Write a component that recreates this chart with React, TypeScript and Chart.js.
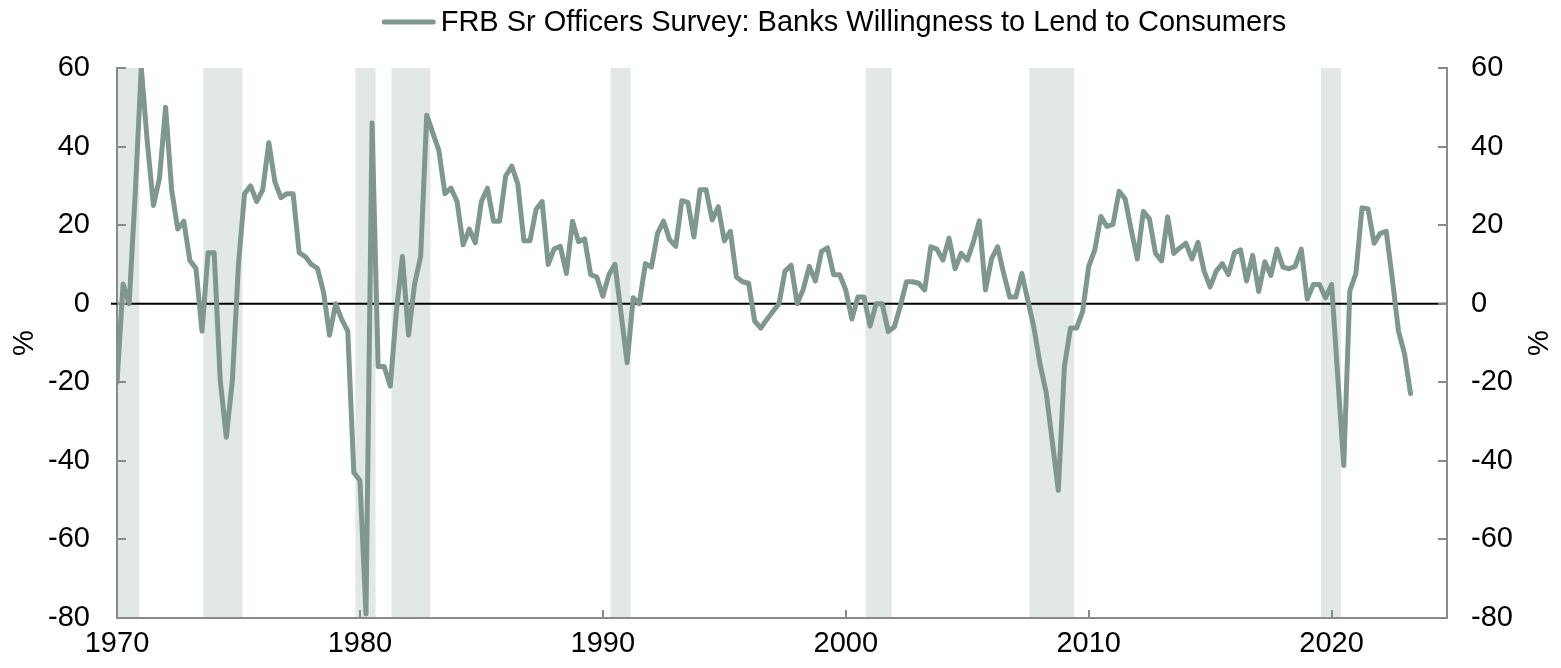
import React, { useEffect, useRef } from "react";
import { Chart, registerables } from "chart.js";

Chart.register(...registerables);

// ---- Data (quarterly, starting 1970 Q1) ----
const START_YEAR = 1970;
const seriesLabel = "FRB Sr Officers Survey: Banks Willingness to Lend to Consumers";
const willingness: number[] = [
  -20, 5, 0, 28, 60, 41, 25, 32, 50, 29, 19, 21, 11, 9, -7, 13, 13, -19.5, -34, -19.5,
  10, 28, 30, 26, 29, 41, 31, 27, 28, 28, 13, 12, 10, 9, 3, -8, 0, -4, -7, -43,
  -45, -79, 46, -16, -16, -21, -2, 12, -8, 5, 12, 48, 43.5, 39, 28, 29.4, 26, 15, 19, 15.5,
  26, 29.4, 21, 21, 32.5, 35, 30.5, 16, 16, 24, 26, 10, 14, 14.6, 7.7, 21, 15.8, 16.5, 7.4, 6.8,
  1.9, 7.4, 10, -2.5, -15, 1.5, 0, 10.2, 9.3, 17.9, 21, 16.3, 14.6, 26.2, 25.8, 17, 29, 29, 21.3, 24.7,
  16, 18.4, 6.8, 5.6, 5.2, -4.4, -6.2, -4, -2, 0, 8.3, 9.8, 0, 3.7, 9.5, 5.8, 13.3, 14.2, 7.4, 7.4,
  3.5, -3.9, 1.7, 1.7, -5.7, 0, 0, -7.1, -5.9, -0.5, 5.6, 5.6, 5.2, 3.5, 14.5, 13.9, 11.1, 16.7, 8.9, 12.8,
  11.1, 15.6, 21.1, 3.5, 11.4, 14.5, 7.7, 1.7, 1.7, 7.7, 0.7, -6.2, -15.5, -22.6, -35, -47.5, -16, -6.2, -6.2, -2,
  9.5, 13.7, 22.2, 19.7, 20.2, 28.6, 26.7, 18.8, 11.4, 23.5, 21.6, 12.8, 10.9, 22.1, 12.8, 14.2, 15.4, 11.4, 15.6, 8.3,
  4.3, 8.3, 10.2, 7.4, 13, 13.7, 5.8, 12.3, 3.1, 10.7, 7.2, 13.9, 9.3, 8.9, 9.5, 13.9, 1.2, 4.9, 4.9, 1.5,
  4.9, -18.3, -41.2, 3.3, 7.7, 24.4, 24.1, 15.4, 17.9, 18.4, 6.3, -6.9, -12.7, -22.9,
];
const quarterDates: number[] = willingness.map((_, i) => START_YEAR + i / 4);

// Recession shading (decimal years)
const recessionStart = [1969.9, 1973.55, 1979.81, 1981.3, 1990.32, 2000.82, 2007.56, 2019.56];
const recessionEnd = [1970.92, 1975.16, 1980.64, 1982.9, 1991.14, 2001.89, 2009.4, 2020.38];

// Axis ticks
const xTicks = [1970, 1980, 1990, 2000, 2010, 2020];
const X_MIN = 1970;
const X_MAX = 2024.75;
const Y_MIN = -80;
const Y_MAX = 60;
const Y_STEP = 20;

// ---- Styles ----
const FONT_FAMILY = "'Liberation Sans', Arial, Helvetica, sans-serif";
const FONT_SIZE = 29;
const LINE_COLOR = "rgb(126,152,141)";
const BAND_COLOR = "rgb(226,232,230)";
const AXIS_COLOR = "#8a8a8a";

const decorPlugin = {
  id: "decor",
  beforeDraw(chart: any) {
    const { ctx, chartArea, scales } = chart;
    const xs = scales.x;
    ctx.save();
    ctx.beginPath();
    ctx.rect(chartArea.left, chartArea.top, chartArea.right - chartArea.left, chartArea.bottom - chartArea.top + 1);
    ctx.clip();
    ctx.fillStyle = BAND_COLOR;
    recessionStart.forEach((s, i) => {
      const x0 = xs.getPixelForValue(s);
      const x1 = xs.getPixelForValue(recessionEnd[i]);
      ctx.fillRect(x0, chartArea.top, x1 - x0, chartArea.bottom - chartArea.top + 1);
    });
    ctx.restore();
  },
  beforeDatasetsDraw(chart: any) {
    const { ctx, chartArea, scales } = chart;
    const y0 = scales.y.getPixelForValue(0);
    ctx.save();
    ctx.strokeStyle = "#000";
    ctx.lineWidth = 2;
    ctx.beginPath();
    ctx.moveTo(chartArea.left - 6, y0);
    ctx.lineTo(chartArea.right, y0);
    ctx.stroke();
    ctx.restore();
  },
  afterDraw(chart: any) {
    const { ctx, chartArea, scales } = chart;
    ctx.save();
    ctx.strokeStyle = AXIS_COLOR;
    ctx.lineWidth = 2;
    // inward tick marks
    const tl = 9;
    scales.y.ticks.forEach((t: any) => {
      const py = Math.round(scales.y.getPixelForValue(t.value));
      ctx.beginPath();
      ctx.moveTo(chartArea.left, py);
      ctx.lineTo(chartArea.left + tl, py);
      ctx.stroke();
    });
    scales.y2.ticks.forEach((t: any) => {
      const py = Math.round(scales.y2.getPixelForValue(t.value));
      ctx.beginPath();
      ctx.moveTo(chartArea.right, py);
      ctx.lineTo(chartArea.right - tl, py);
      ctx.stroke();
    });
    scales.x.ticks.forEach((t: any) => {
      const px = Math.round(scales.x.getPixelForValue(t.value));
      ctx.beginPath();
      ctx.moveTo(px, chartArea.bottom);
      ctx.lineTo(px, chartArea.bottom - 8);
      ctx.stroke();
    });
    // axis titles "%", both rotated -90
    ctx.fillStyle = "#000";
    ctx.font = `${FONT_SIZE}px ${FONT_FAMILY}`;
    ctx.textAlign = "center";
    ctx.textBaseline = "middle";
    const cy = (chartArea.top + chartArea.bottom) / 2;
    [25, 1540].forEach((cx) => {
      ctx.save();
      ctx.translate(cx, cy);
      ctx.rotate(-Math.PI / 2);
      ctx.fillText("%", 0, 0);
      ctx.restore();
    });
    // legend
    const ds = chart.data.datasets[0];
    const text = ds.label as string;
    const tw = ctx.measureText(text).width;
    const sample = 54;
    const gap = 5;
    const total = sample + gap + tw;
    const center = 834;
    const lx = center - total / 2;
    const ly = 22;
    ctx.strokeStyle = ds.borderColor;
    ctx.lineWidth = 5;
    ctx.lineCap = "round";
    ctx.beginPath();
    ctx.moveTo(lx + 2.5, ly);
    ctx.lineTo(lx + sample - 2.5, ly);
    ctx.stroke();
    ctx.textAlign = "left";
    ctx.fillText(text, lx + sample + gap, ly + 1);
    ctx.restore();
  },
};

export default function App() {
  const canvasRef = useRef<HTMLCanvasElement | null>(null);

  useEffect(() => {
    document.body.style.margin = "0";
    document.body.style.overflow = "hidden";
    const canvas = canvasRef.current;
    if (!canvas) return;
    const tickFont = { family: FONT_FAMILY, size: FONT_SIZE };
    const chart = new Chart(canvas, {
      type: "line",
      data: {
        datasets: [
          {
            label: seriesLabel,
            data: quarterDates.map((x, i) => ({ x, y: willingness[i] })),
            borderColor: LINE_COLOR,
            backgroundColor: LINE_COLOR,
            borderWidth: 5,
            pointRadius: 0,
            tension: 0,
            borderJoinStyle: "round",
            borderCapStyle: "round",
            yAxisID: "y",
          },
        ],
      },
      options: {
        responsive: false,
        animation: false,
        events: [],
        layout: { padding: { top: 68, left: 0, right: 0, bottom: 0 } },
        plugins: { legend: { display: false }, tooltip: { enabled: false } },
        scales: {
          x: {
            type: "linear",
            min: X_MIN,
            max: X_MAX,
            afterBuildTicks: (s: any) => {
              s.ticks = xTicks.map((v) => ({ value: v }));
            },
            afterFit: (s: any) => {
              s.height = 50;
            },
            ticks: {
              font: tickFont,
              color: "#000",
              padding: 1,
              maxRotation: 0,
              autoSkip: false,
              callback: (v: any) => String(v),
            },
            grid: { display: false },
            border: { display: true, color: AXIS_COLOR, width: 2 },
          },
          y: {
            position: "left",
            min: Y_MIN,
            max: Y_MAX,
            afterFit: (s: any) => {
              s.width = 117;
            },
            ticks: { stepSize: Y_STEP, font: tickFont, color: "#000", padding: 19 },
            grid: { display: false },
            border: { display: true, color: AXIS_COLOR, width: 2 },
          },
          y2: {
            position: "right",
            min: Y_MIN,
            max: Y_MAX,
            afterFit: (s: any) => {
              s.width = 114;
            },
            ticks: { stepSize: Y_STEP, font: tickFont, color: "#000", padding: 16 },
            grid: { display: false },
            border: { display: true, color: AXIS_COLOR, width: 2 },
          },
        },
      } as any,
      plugins: [decorPlugin],
    });
    return () => chart.destroy();
  }, []);

  return (
    <div style={{ width: 1561, height: 668 }}>
      <canvas ref={canvasRef} width={1561} height={668} style={{ display: "block" }} />
    </div>
  );
}
